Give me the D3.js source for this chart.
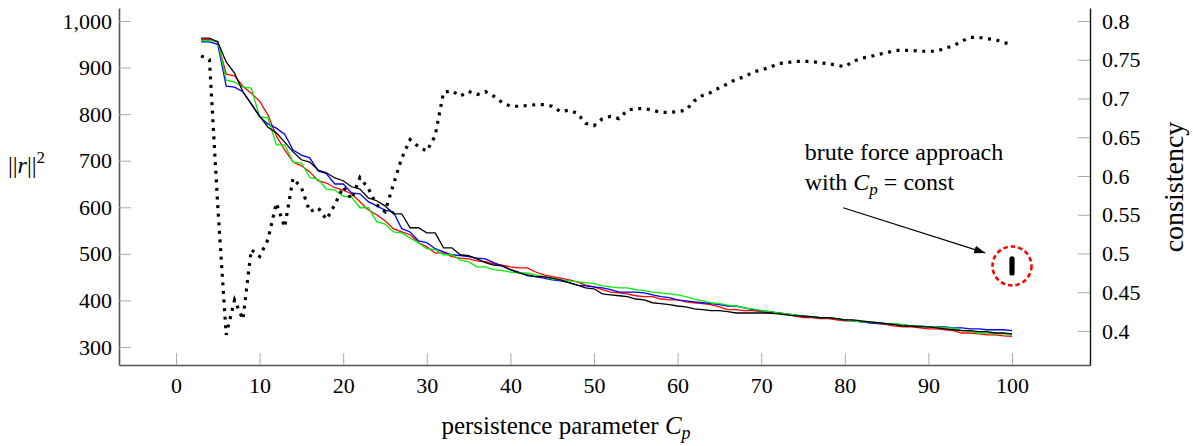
<!DOCTYPE html>
<html>
<head>
<meta charset="utf-8">
<title>residual vs persistence parameter</title>
<style>
  body { margin:0; background:#fff; }
  svg text { font-family: "Liberation Serif", "DejaVu Serif", serif; fill:#000; }
  .axis line { stroke:#aaa; stroke-width:1; }
  .axis text { font-size:22px; font-family: "Liberation Serif", serif !important; }
  .axis.left .domain, .axis.bottom .domain { stroke:#555; stroke-width:1.6; }
  .axis.right .domain { stroke:#111; stroke-width:1.4; }
</style>
</head>
<body>
<script src="https://cdn.jsdelivr.net/npm/d3@7"></script>
<script>
// persistence parameter C_p
var cp = [3,4,5,6,7,8,9,10,11,12,13,14,15,16,17,18,19,20,21,22,23,24,25,26,27,28,29,30,
  31,32,33,34,35,36,37,38,39,40,41,42,43,44,45,46,47,48,49,50,51,52,53,54,55,56,57,58,59,60,
  61,62,63,64,65,66,67,68,69,70,71,72,73,74,75,76,77,78,79,80,81,82,83,84,85,86,87,88,89,90,
  91,92,93,94,95,96,97,98,99,100];

// ||r||^2, four runs
var rBlack = [963,963,955,912,888,848,822,796,772,760,
  740,719,702,697,680,674,663,657,644,639,
  620,614,603,586,586,556,556,545,545,513,
  513,498,496,489,481,476,474,466,459,455,
  451,451,448,444,438,433,427,425,414,412,
  410,408,403,401,395,393,391,388,386,382,
  380,378,378,376,373,373,373,373,373,371,
  369,367,367,365,363,363,361,358,358,356,
  354,352,350,348,345,345,343,343,341,339,
  337,335,335,333,333,330,330,328];
var rRed = [960,960,955,886,882,860,845,828,798,753,
  723,697,689,676,657,652,642,637,629,612,
  594,584,571,554,547,541,524,515,502,502,
  494,491,489,485,483,479,476,472,470,470,
  461,455,451,448,444,440,433,429,423,418,
  416,414,410,408,408,403,401,401,397,395,
  393,391,386,380,380,378,378,376,373,373,
  371,367,363,363,361,361,358,356,356,354,
  352,350,348,345,343,343,341,339,339,337,
  335,330,330,328,326,326,324,323];
var rGreen = [958,958,957,873,869,858,856,794,792,734,
  734,697,695,664,660,639,637,624,622,599,
  599,569,564,547,545,534,524,511,509,498,
  498,487,483,472,472,466,464,461,459,459,
  455,451,446,444,442,440,438,436,431,429,
  427,427,423,421,418,416,414,412,408,403,
  399,395,393,390,388,384,382,378,376,373,
  371,369,367,365,363,363,361,358,356,354,
  354,352,350,350,348,345,345,343,343,341,
  341,335,333,330,330,328,328,326];
var rBlue = [955,955,950,860,858,848,822,794,779,770,
  757,723,712,706,678,672,650,650,631,629,
  612,603,594,590,554,547,528,524,511,504,
  498,496,494,491,489,481,474,466,461,453,
  451,448,444,442,438,433,431,429,427,423,
  418,418,418,416,412,408,406,401,399,397,
  395,393,391,388,388,384,380,378,376,373,
  371,369,365,365,363,363,361,358,356,354,
  352,350,350,348,348,345,345,343,343,343,
  341,341,339,339,337,337,337,335];

// consistency (right axis)
var consistency = [.755,.75,.56,.395,.44,.415,.505,.496,.518,.565,
  .534,.597,.585,.554,.559,.544,.563,.586,.57,.598,
  .584,.563,.554,.589,.623,.647,.638,.632,.652,.708,
  .71,.703,.709,.705,.709,.703,.695,.69,.69,.691,
  .692,.692,.69,.683,.685,.681,.668,.665,.674,.677,
  .674,.685,.687,.687,.685,.682,.682,.683,.685,.697,
  .704,.708,.714,.719,.725,.728,.734,.737,.74,.745,
  .746,.748,.748,.748,.746,.745,.743,.741,.748,.752,
  .754,.757,.759,.762,.762,.762,.761,.761,.761,.765,
  .768,.774,.779,.779,.777,.776,.772,.77];

// brute force approach, C_p = const = 100
var bruteCp = 100;
var bruteR = [489,484,479,474,469,464,459];

var xTicks = [0,10,20,30,40,50,60,70,80,90,100];
var yTicks = [300,400,500,600,700,800,900,1000];
var y2Ticks = [0.4,0.45,0.5,0.55,0.6,0.65,0.7,0.75,0.8];

// annotation: text anchor and arrow (data units)
var noteAt = [75.2, 702];
var arrowFrom = [79.8, 599];
var arrowTo = [96.8, 502];

var width = 1193, height = 446;
var serif = "Liberation Serif, DejaVu Serif, serif";
var svg = d3.select("body").append("svg")
  .attr("width", width).attr("height", height);

var x = d3.scaleLinear().domain([-6.82, 109.33]).range([119, 1090]);
var y = d3.scaleLinear().domain([261.3, 1027.9]).range([365, 8]);
var y2 = d3.scaleLinear().domain([0.3561, 0.8168]).range([365, 8]);

svg.append("g").attr("class", "axis bottom")
  .attr("transform", "translate(0,365)")
  .call(d3.axisBottom(x).tickValues(xTicks).tickSize(-12).tickSizeOuter(0).tickPadding(12))
  .attr("font-family", serif);
svg.append("g").attr("class", "axis left")
  .attr("transform", "translate(119,0)")
  .call(d3.axisLeft(y).tickValues(yTicks).tickFormat(d3.format(",")).tickSize(-12).tickSizeOuter(0).tickPadding(7))
  .attr("font-family", serif);
svg.append("g").attr("class", "axis right")
  .attr("transform", "translate(1090,0)")
  .call(d3.axisRight(y2).tickValues(y2Ticks).tickFormat(function(d){ return String(d); }).tickSize(-12).tickSizeOuter(0).tickPadding(12))
  .attr("font-family", serif);

// residual curves
var runs = [
  {vals: rRed, color: "#ff0000"},
  {vals: rBlue, color: "#0000ff"},
  {vals: rGreen, color: "#00ee00"},
  {vals: rBlack, color: "#000000"}
];
var line = d3.line()
  .x(function(d){ return x(d[0]); })
  .y(function(d){ return y(d[1]); });
runs.forEach(function(run){
  svg.append("path")
    .datum(cp.map(function(c, i){ return [c, run.vals[i]]; }))
    .attr("fill", "none")
    .attr("stroke", run.color)
    .attr("stroke-width", 1.3)
    .attr("d", line);
});

// consistency, dotted
var line2 = d3.line()
  .x(function(d){ return x(d[0]); })
  .y(function(d){ return y2(d[1]); });
svg.append("path")
  .datum(cp.map(function(c, i){ return [c, consistency[i]]; }))
  .attr("fill", "none")
  .attr("stroke", "#000")
  .attr("stroke-width", 3.2)
  .attr("stroke-dasharray", "3 5.6")
  .attr("d", line2);

// brute force points + dashed circle
svg.selectAll("circle.brute").data(bruteR).enter().append("circle")
  .attr("class", "brute")
  .attr("cx", x(bruteCp))
  .attr("cy", function(d){ return y(d); })
  .attr("r", 2.6)
  .attr("fill", "#000");
svg.append("circle")
  .attr("cx", x(bruteCp))
  .attr("cy", y(d3.mean(bruteR)))
  .attr("r", 19.5)
  .attr("fill", "none")
  .attr("stroke", "#ff0000")
  .attr("stroke-width", 2.6)
  .attr("stroke-dasharray", "4.5 3");

// arrow
svg.append("defs").append("marker")
  .attr("id", "head")
  .attr("markerUnits", "userSpaceOnUse")
  .attr("markerWidth", 14).attr("markerHeight", 10)
  .attr("viewBox", "0 -5 14 10")
  .attr("refX", 11).attr("refY", 0)
  .attr("orient", "auto")
  .append("path").attr("d", "M0,-4L11,0L0,4Z").attr("fill", "#000");
svg.append("line")
  .attr("x1", x(arrowFrom[0])).attr("y1", y(arrowFrom[1]))
  .attr("x2", x(arrowTo[0])).attr("y2", y(arrowTo[1]))
  .attr("stroke", "#000").attr("stroke-width", 1.2)
  .attr("marker-end", "url(#head)");

var note = svg.append("text").attr("font-size", 24);
note.append("tspan").attr("x", x(noteAt[0])).attr("y", y(noteAt[1])).text("brute force approach");
note.append("tspan").attr("x", x(noteAt[0])).attr("dy", 30).text("with ");
note.append("tspan").attr("font-style", "italic").text("C");
note.append("tspan").attr("font-style", "italic").attr("font-size", 17).attr("dy", 5).text("p");
note.append("tspan").attr("dy", -5).text(" = const");

// axis labels
var xl = svg.append("text").attr("font-size", 25)
  .attr("x", 566).attr("y", 434).attr("text-anchor", "middle");
xl.append("tspan").text("persistence parameter ");
xl.append("tspan").attr("font-style", "italic").text("C");
xl.append("tspan").attr("font-style", "italic").attr("font-size", 18).attr("dy", 5).text("p");

var yl = svg.append("text").attr("font-size", 24).attr("x", 8).attr("y", 173);
yl.append("tspan").text("||");
yl.append("tspan").attr("font-style", "italic").text("r");
yl.append("tspan").text("||");
yl.append("tspan").attr("font-size", 17).attr("dy", -10).text("2");

svg.append("text").attr("font-size", 28)
  .attr("text-anchor", "middle")
  .attr("transform", "translate(1183,187) rotate(-90)")
  .text("consistency");
</script>
</body>
</html>
